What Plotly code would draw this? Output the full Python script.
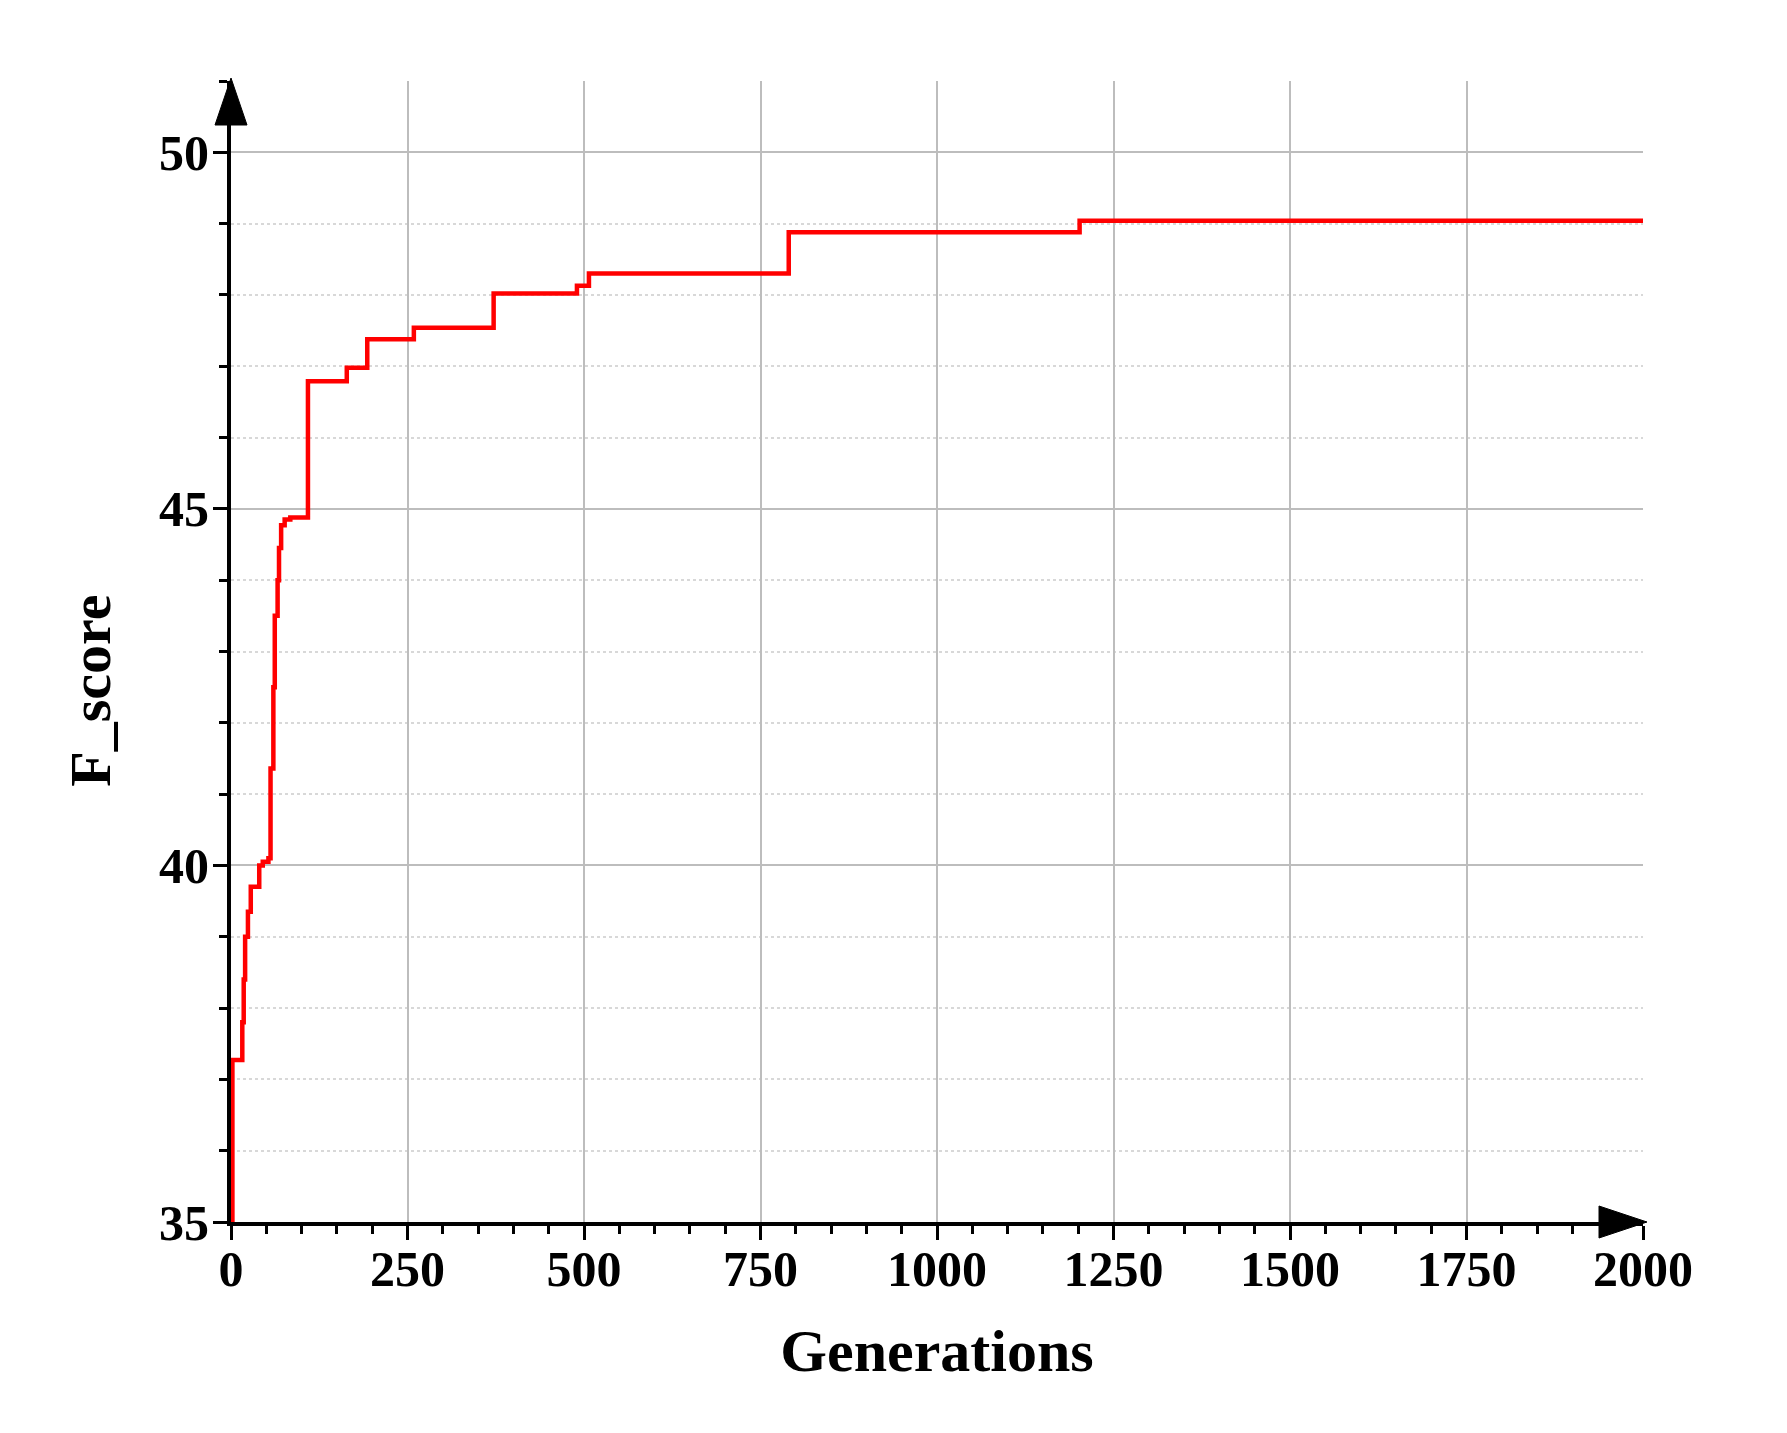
"""Best F_score per generation (step curve) recreated with Plotly."""
import plotly.graph_objects as go

# generation at which the best score changed, and the new best score
generations = [0, 2, 16, 18, 20, 24, 28, 40, 45, 53, 56, 60, 62, 66, 68, 71, 76,
               84, 109, 164, 193, 259, 372, 490, 507, 790, 1202, 2000]
f_score = [35.0, 37.27, 37.8, 38.4, 39.0, 39.35, 39.7, 40.0, 40.05, 40.1, 41.36,
           42.5, 43.5, 44.0, 44.45, 44.77, 44.85, 44.88, 46.79, 46.98, 47.38,
           47.54, 48.02, 48.13, 48.30, 48.88, 49.04, 49.04]

x_ticks = [0, 250, 500, 750, 1000, 1250, 1500, 1750, 2000]
y_ticks = [35, 40, 45, 50]

FONT = 'Times New Roman, Liberation Serif, serif'
GRID = '#bdbdbd'
MINOR_GRID = '#d8d8d8'

fig = go.Figure(go.Scatter(
    x=generations, y=f_score, mode='lines', line_shape='hv',
    line=dict(color='#ff0000', width=4.5), showlegend=False,
))

axis_common = dict(
    showline=True, linecolor='black', linewidth=4,
    ticks='outside', ticklen=14, tickwidth=3, tickcolor='black',
    gridcolor=GRID, gridwidth=2, zeroline=False, automargin=False,
    tickfont=dict(family=FONT, size=50, color='black', weight='bold'),
)

fig.update_xaxes(
    **axis_common, range=[0, 2000], tickvals=x_ticks, ticklabelstandoff=-14,
    minor=dict(dtick=50, tick0=0, ticks='outside', ticklen=8, tickwidth=2.5,
               tickcolor='black', showgrid=False),
    title=dict(text='Generations', standoff=34,
               font=dict(family=FONT, size=60, color='black', weight='bold')),
)
fig.update_yaxes(
    **axis_common, range=[35, 51.0], tickvals=y_ticks, ticklabelstandoff=-6,
    minor=dict(dtick=1, tick0=35, ticks='outside', ticklen=8, tickwidth=2.5,
               tickcolor='black', showgrid=True, gridcolor=MINOR_GRID,
               griddash='dot', gridwidth=1.5),
)

# y-axis title, placed a little below the middle as in the original
fig.add_annotation(
    text='F_score', textangle=-90, showarrow=False,
    xref='paper', x=0, xanchor='center', xshift=-140,
    yref='y', y=42.45, yanchor='middle',
    font=dict(family=FONT, size=58, color='black', weight='bold'),
)

# arrow heads at the ends of both axes
fig.add_shape(type='path', xref='paper', yref='paper',
              xsizemode='pixel', ysizemode='pixel', xanchor=1, yanchor=0,
              path='M -44 -16 L -44 16 L 4 0 Z', fillcolor='black',
              line=dict(color='black', width=1))
fig.add_shape(type='path', xref='paper', yref='paper',
              xsizemode='pixel', ysizemode='pixel', xanchor=0, yanchor=1,
              path='M -16 -44 L 16 -44 L 0 3 Z', fillcolor='black',
              line=dict(color='black', width=1))

fig.update_layout(
    width=1787, height=1433,
    margin=dict(l=223, r=152, t=73, b=219),
    plot_bgcolor='white', paper_bgcolor='white',
)

fig.write_html('out.html')
